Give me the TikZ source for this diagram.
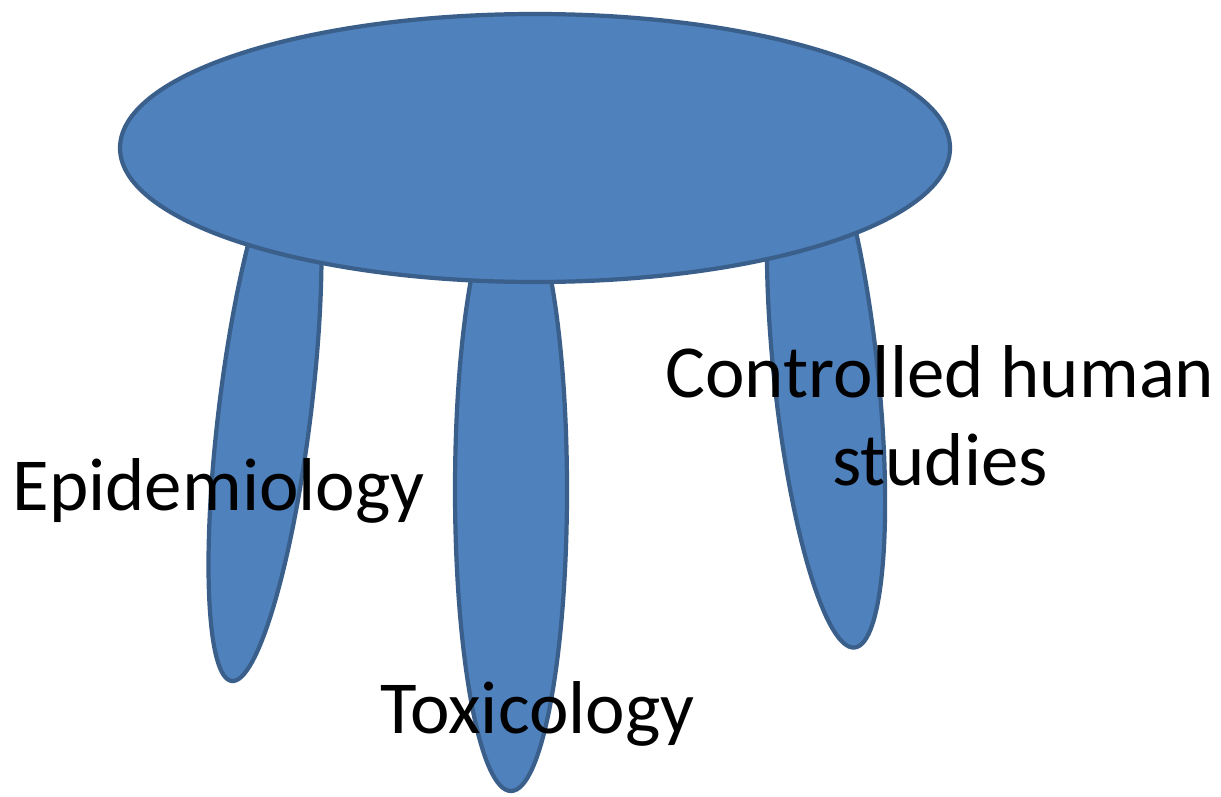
\documentclass[tikz,border=0pt]{standalone}
\usepackage{fontspec}
\setmainfont{Carlito}
\usetikzlibrary{positioning}
\usetikzlibrary{shapes.geometric}
\definecolor{stoolfill}{HTML}{4F81BD}
\definecolor{stooledge}{HTML}{3A5F8B}

\begin{document}
\begin{tikzpicture}[
    part/.style={ellipse, draw=stooledge, fill=stoolfill, line width=1.2pt, inner sep=0pt},
    leglabel/.style={font=\fontsize{21.3}{25}\selectfont, align=center, inner sep=0pt}
  ]
    \useasboundingbox (0,0) rectangle (12.21,7.96);

    % legs first, the seat covers their tops
    \node[part, minimum width=0.92cm, minimum height=5.46cm, rotate=-7] (epileg) at (2.65,3.86) {};
    \node[part, minimum width=1.12cm, minimum height=6.02cm] (toxleg) at (5.11,3.06) {};
    \node[part, minimum width=1.04cm, minimum height=5.48cm, rotate=6] (humleg) at (8.26,4.21) {};

    \node[part, minimum width=8.30cm, minimum height=2.68cm] (seat) at (5.35,6.48) {};

    \node[leglabel, anchor=base west] (epi) at (0.12,2.86) {Epidemiology};
    \node[leglabel, anchor=base] (tox) at (5.375,0.63) {Toxicology};
    \node[leglabel, anchor=base] (hum) at (9.40,3.11) {Controlled human\\studies};

\end{tikzpicture}
\end{document}
